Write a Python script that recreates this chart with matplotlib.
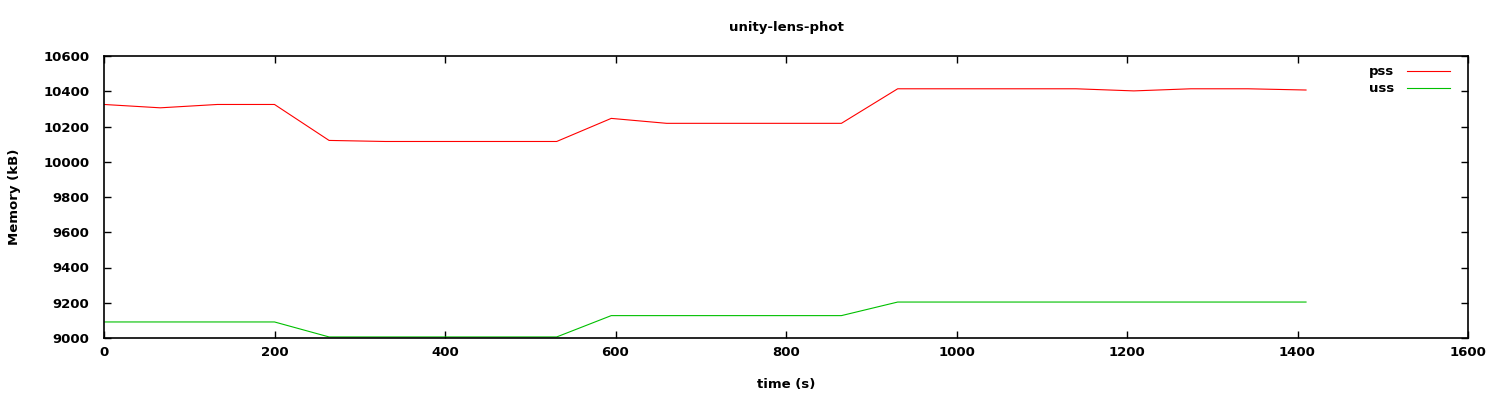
import matplotlib
matplotlib.use('Agg')
import matplotlib.pyplot as plt

# samples (time in s, memory in kB)
pss_t = [0, 66, 133, 200, 264, 330, 397, 464, 531, 595, 660, 730, 797, 865,
         931, 998, 1064, 1140, 1208, 1275, 1342, 1410]
pss_kb = [10325, 10306, 10325, 10325, 10121, 10115, 10115, 10115, 10115, 10246,
          10218, 10218, 10218, 10218, 10414, 10414, 10414, 10414, 10402, 10414,
          10414, 10407]

uss_t = [0, 66, 133, 200, 264, 330, 397, 464, 531, 595, 660, 730, 797, 865,
         931, 998, 1064, 1140, 1208, 1275, 1342, 1410]
uss_kb = [9091, 9091, 9091, 9091, 9006, 9006, 9006, 9006, 9006, 9127,
          9127, 9127, 9127, 9127, 9204, 9204, 9204, 9204, 9204, 9204,
          9204, 9204]

FS = 9.5
plt.rcParams['font.family'] = 'DejaVu Sans'
plt.rcParams['font.size'] = FS

fig = plt.figure(figsize=(15, 4), dpi=100)
ax = fig.add_axes([104/1500, 1-338/400, (1468-104)/1500, (338-56)/400])

ax.plot(pss_t, pss_kb, color='#ff0000', lw=0.8, label='pss')
ax.plot(uss_t, uss_kb, color='#00c000', lw=0.8, label='uss')

ax.set_xlim(0, 1600)
ax.set_ylim(9000, 10600)
ax.set_xticks(range(0, 1601, 200))
ax.set_yticks(range(9000, 10601, 200))
ax.tick_params(direction='in', top=True, right=True, length=5, width=1,
               labelsize=FS)
ax.tick_params(axis='x', pad=6)
ax.tick_params(axis='y', pad=10.5)
for lbl in ax.get_xticklabels() + ax.get_yticklabels():
    lbl.set_fontweight('bold')
for s in ax.spines.values():
    s.set_linewidth(1.2)

ax.set_title('unity-lens-phot', fontsize=FS, fontweight='bold', pad=18)
ax.set_xlabel('time (s)', fontsize=FS, fontweight='bold', labelpad=13.5)
ax.set_ylabel('Memory (kB)', fontsize=FS, fontweight='bold', labelpad=16)

leg = ax.legend(loc='upper right', bbox_to_anchor=(1.0, 1.032),
                frameon=False, markerfirst=False,
                handlelength=3.2, handletextpad=1.0, borderaxespad=1.0,
                labelspacing=0.3, prop={'weight': 'bold', 'size': FS})
for t in leg.get_texts():
    t.set_ha('right')

fig.savefig('out.png', dpi=100)
